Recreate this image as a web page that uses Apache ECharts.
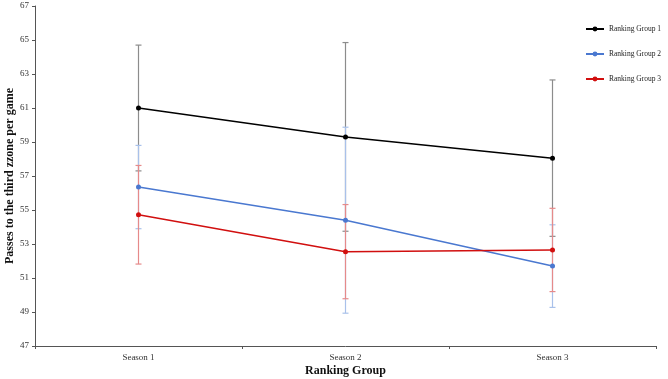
<!DOCTYPE html>
<html>
<head>
<meta charset="utf-8">
<script src="https://cdn.jsdelivr.net/npm/echarts@6/dist/echarts.min.js"></script>
<style>
 html, body { margin: 0; padding: 0; background: #fff; }
 #main { width: 668px; height: 379px; }
</style>
</head>
<body>
<div id="main"></div>
<script>
 var seasons = ['Season 1', 'Season 2', 'Season 3'];
 var groupNames = ['Ranking Group 1', 'Ranking Group 2', 'Ranking Group 3'];
 // mean values per group
 var group1Mean = [61.0, 59.3, 58.05];
 var group2Mean = [56.35, 54.4, 51.7];
 var group3Mean = [54.72, 52.55, 52.65];
 // error bar half-widths
 var group1Err = [3.7, 5.55, 4.6];
 var group2Err = [2.45, 5.47, 2.43];
 var group3Err = [2.9, 2.77, 2.45];
 var yTicks = [47, 49, 51, 53, 55, 57, 59, 61, 63, 65, 67];

 var lineColors = ['#000000', '#4a78d0', '#d10f0f'];
 var errColors = ['#8c8c8c', '#a9c1ea', '#e68a8a'];
 var means = [group1Mean, group2Mean, group3Mean];
 var errs = [group1Err, group2Err, group3Err];

 var myChart = echarts.init(document.getElementById('main'));

 function errBar(color) {
     return function(params, api) {
         var x = api.value(0);
         var lo = api.coord([x, api.value(1)]);
         var hi = api.coord([x, api.value(2)]);
         var w = 3;
         var st = { stroke: color, lineWidth: 1.2 };
         return {
             type: 'group',
             children: [
                 { type: 'line', shape: { x1: lo[0], y1: lo[1], x2: hi[0], y2: hi[1] }, style: st },
                 { type: 'line', shape: { x1: lo[0] - w, y1: lo[1], x2: lo[0] + w, y2: lo[1] }, style: st },
                 { type: 'line', shape: { x1: hi[0] - w, y1: hi[1], x2: hi[0] + w, y2: hi[1] }, style: st }
             ]
         };
     };
 }

 var series = [];
 for (var g = 0; g < 3; g++) {
     series.push({
         type: 'custom',
         name: groupNames[g] + ' err',
         renderItem: errBar(errColors[g]),
         silent: true,
         z: 1 + g,
         data: seasons.map(function(s, i) {
             return [i, means[g][i] - errs[g][i], means[g][i] + errs[g][i]];
         })
     });
 }
 for (var g = 0; g < 3; g++) {
     series.push({
         type: 'line',
         name: groupNames[g],
         data: means[g],
         symbol: 'circle',
         symbolSize: 5,
         z: 10,
         lineStyle: { color: lineColors[g], width: 1.5 },
         itemStyle: { color: lineColors[g] }
     });
 }

 var option = {
     backgroundColor: '#fff',
     animation: false,
     textStyle: { fontFamily: 'Liberation Serif' },
     grid: { left: 35, right: 12, top: 6, bottom: 33, containLabel: false, outerBoundsMode: 'none' },
     legend: {
         data: groupNames,
         orient: 'vertical',
         left: 580,
         top: 20,
         itemWidth: 18,
         itemHeight: 6,
         itemGap: 17,
         textStyle: { fontFamily: 'Liberation Serif', fontSize: 7.5, color: '#222' }
     },
     xAxis: {
         type: 'category',
         data: seasons,
         boundaryGap: true,
         name: 'Ranking Group',
         nameLocation: 'middle',
         nameGap: 19,
         nameMoveOverlap: false,
         nameTextStyle: { fontFamily: 'Liberation Serif', fontWeight: 'bold', fontSize: 12, color: '#111' },
         axisLine: { lineStyle: { color: '#555', width: 1 } },
         axisTick: { show: true, length: 3, alignWithLabel: false, lineStyle: { color: '#555' } },
         axisLabel: { fontFamily: 'Liberation Serif', fontSize: 9, color: '#333', margin: 7 },
         splitLine: { show: false }
     },
     yAxis: {
         type: 'value',
         min: yTicks[0],
         max: yTicks[yTicks.length - 1],
         interval: 2,
         name: 'Passes to the third zzone per game',
         nameLocation: 'middle',
         nameGap: 19,
         nameMoveOverlap: false,
         nameTextStyle: { fontFamily: 'Liberation Serif', fontWeight: 'bold', fontSize: 12, color: '#111' },
         axisLine: { show: true, lineStyle: { color: '#555', width: 1 } },
         axisTick: { show: true, length: 3, lineStyle: { color: '#555' } },
         axisLabel: { fontFamily: 'Liberation Serif', fontSize: 9, color: '#333', margin: 6 },
         splitLine: { show: false }
     },
     series: series
 };

 myChart.setOption(option);
</script>
</body>
</html>
